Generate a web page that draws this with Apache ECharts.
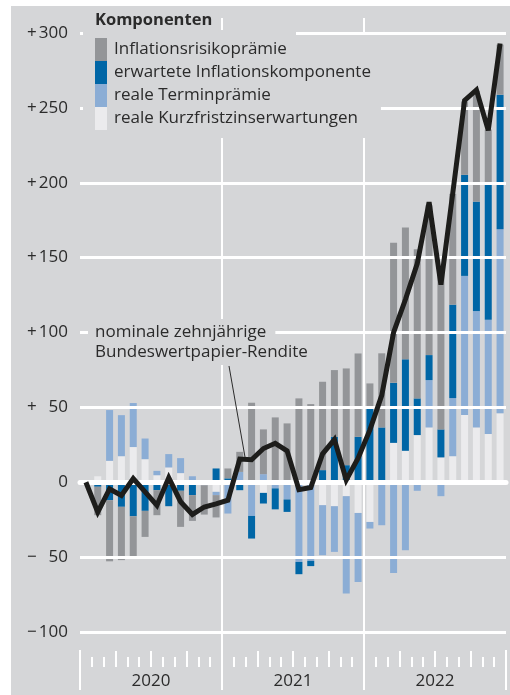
<!DOCTYPE html>
<html><head><meta charset="utf-8">
<script src="https://cdn.jsdelivr.net/npm/echarts@6/dist/echarts.min.js"></script>
<style>
html,body{margin:0;padding:0;background:#fff;}
#bg{position:absolute;left:11px;top:6px;width:499px;height:689px;background:#d5d6d8;}
#chart{position:absolute;left:0;top:0;width:510px;height:695px;}
</style>
</head><body><div id="bg"></div><div id="chart"></div>
<script>
const months = ['2020-01','2020-02','2020-03','2020-04','2020-05','2020-06','2020-07','2020-08','2020-09','2020-10','2020-11','2020-12',
  '2021-01','2021-02','2021-03','2021-04','2021-05','2021-06','2021-07','2021-08','2021-09','2021-10','2021-11','2021-12',
  '2022-01','2022-02','2022-03','2022-04','2022-05','2022-06','2022-07','2022-08','2022-09','2022-10','2022-11','2022-12'];
const quarters = ['Q1 20','Q2 20','Q3 20','Q4 20','Q1 21','Q2 21','Q3 21','Q4 21','Q1 22','Q2 22','Q3 22','Q4 22'];
const years = ['2020','2021','2022'];
const yTicks = [-100,-50,0,50,100,150,200,250,300];

// Components (basis points)
const kurzfrist = [0,4,14.3,17.4,23.5,15.4,4.7,9.9,6.1,0,0,-6.4,
  0,0,0,-7.1,0,0,0,0,-15.3,-16,-9.3,-20.5,
  -26.5,0,26.3,21,31.5,36.6,16.6,17.4,44.9,36.6,32.2,46];
const termin = [0,0,33.9,27.4,29.4,13.8,2.9,8.9,10,4,-2,-2.2,
  -20.9,6.9,-22.5,5.4,-4.1,-11.5,-53.2,-52.5,-33.4,-30.5,-65,-46.1,
  -4.4,-28.7,-60.6,-45.4,-5.7,31.6,-9.3,38.8,92.9,77.7,76.3,123];
const erwartet = [0,-3,-12,-16.4,-22.7,-19.1,-5.3,-16,-5.7,-8.6,0,9.2,
  2.6,-5.3,-15.1,-7.1,-14,-8.3,-8.2,-3.5,8.1,30.3,11.4,30.3,
  50,36.6,40.1,61.1,24.5,16.7,18.7,62.4,67.5,73.1,90.2,89.8];
const risiko = [0,-19,-40.8,-35.6,-27.9,-17.4,-16.7,0,-24.1,-17.2,-19.6,-14.9,
  6.6,13.4,53.1,29.9,43.3,39.3,56,52.2,59,44.6,64.6,55.7,
  16,49.5,93.6,88,99.6,100,106,74,49,74,36.8,33.4];
const rendite = [0,-20,-4.5,-8.8,2.5,-6.4,-15.5,3,-13,-21.5,-16.5,-14.5,
  -12,15.5,15,22.5,26,21,-5,-3.5,19,28.5,1.5,16,
  35,58,100,122,146,187,132,193,255,262,235,293];

const FONT = '"Open Sans", "Noto Sans", sans-serif';
const FS = 17;
const BG = '#d5d6d8';
const TXT = '#2b2b2b';
const C = {risiko:'#939598', erwartet:'#0066a6', termin:'#8badd5', kurz:'#ebebed', line:'#1d1d1b'};

const chart = echarts.init(document.getElementById('chart'), null, {renderer:'canvas'});

function barSeries(name, data, color){
  return {name, type:'bar', stack:'k', data, barWidth:7, xAxisIndex:0, yAxisIndex:0,
    itemStyle:{color}, emphasis:{disabled:true}, z:2};
}

const option = {
  animation:false,
  textStyle:{fontFamily:FONT},
  title:{text:'Komponenten', left:83, top:9, padding:[3,6,3,12], backgroundColor:BG,
    textStyle:{fontSize:16.5, fontWeight:'bold', color:TXT, fontFamily:FONT}, z:8},
  legend:{
    data:['Inflationsrisikoprämie','erwartete Inflationskomponente','reale Terminprämie','reale Kurzfristzinserwartungen'],
    orient:'vertical', left:83, top:35, padding:[3,10,8,12], itemWidth:12, itemHeight:23, itemGap:0,
    icon:'rect', backgroundColor:BG, selectedMode:false, z:8,
    textStyle:{fontSize:FS, lineHeight:23, color:TXT, fontFamily:FONT, padding:[0,0,0,2]}
  },
  grid:[
    {left:80, width:426, top:33, height:599},
    {left:80, width:426, top:18, height:632}
  ],
  xAxis:[
    {gridIndex:0, type:'category', data:months, boundaryGap:true, z:3,
      axisLine:{show:true, onZero:true, lineStyle:{color:'#fff', width:5}},
      axisTick:{show:false}, axisLabel:{show:false}, splitLine:{show:false}},
    {gridIndex:1, type:'category', data:years, boundaryGap:true, position:'bottom', z:1,
      axisLine:{show:false},
      axisTick:{show:true, length:40, interval:0, lineStyle:{color:'#fff', width:2}},
      axisLabel:{show:true, margin:23, fontSize:FS, color:TXT, fontFamily:FONT},
      splitLine:{show:true, interval:0, showMinLine:false, showMaxLine:false, lineStyle:{color:'#fff', width:2}}},
    {gridIndex:1, type:'category', data:months, boundaryGap:true, position:'bottom', offset:17, z:1,
      axisLine:{show:false},
      axisTick:{show:true, inside:true, length:10, interval:0, lineStyle:{color:'#fff', width:2}},
      axisLabel:{show:false}, splitLine:{show:false}},
    {gridIndex:1, type:'category', data:quarters, boundaryGap:true, position:'bottom', offset:17, z:1,
      axisLine:{show:false},
      axisTick:{show:true, inside:true, length:16, interval:0, lineStyle:{color:'#fff', width:2}},
      axisLabel:{show:false}, splitLine:{show:false}}
  ],
  yAxis:[
    {gridIndex:0, type:'value', min:yTicks[0], max:yTicks[yTicks.length-1], interval:50, z:3,
      axisLine:{show:false}, axisTick:{show:false},
      splitLine:{show:true, lineStyle:{color:'#fff', width:3}},
      axisLabel:{margin:12, align:'right',
        formatter:function(v){
          if(v===0) return '{n|0}';
          return '{s|' + (v>0?'+':'\u2212') + '}{n|' + Math.abs(v) + '}';
        },
        rich:{
          s:{width:12, align:'left', fontSize:FS, color:TXT, fontFamily:FONT},
          n:{width:29, align:'right', fontSize:FS, color:TXT, fontFamily:FONT}
        }}},
    {gridIndex:1, type:'value', show:false, min:0, max:1}
  ],
  series:[
    barSeries('reale Kurzfristzinserwartungen', kurzfrist, C.kurz),
    barSeries('reale Terminprämie', termin, C.termin),
    barSeries('erwartete Inflationskomponente', erwartet, C.erwartet),
    barSeries('Inflationsrisikoprämie', risiko, C.risiko),
    {name:'nominale zehnjährige Bundeswertpapier-Rendite', type:'line', data:rendite,
      xAxisIndex:0, yAxisIndex:0, symbol:'none', z:6, emphasis:{disabled:true},
      lineStyle:{color:C.line, width:5, join:'miter', miterLimit:4}}
  ],
  graphic:[
    {type:'rect', shape:{x:83, y:30, width:213, height:6}, style:{fill:BG}, z:7, silent:true},
    {type:'text', x:88, y:339, z:9, silent:true,
      style:{text:'Bundeswertpapier-Rendite', font:FS + 'px ' + FONT, fill:TXT,
        lineHeight:20, backgroundColor:BG, padding:[3,8,3,7]}},
    {type:'text', x:88, y:319, z:9, silent:true,
      style:{text:'nominale zehnjährige', font:FS + 'px ' + FONT, fill:TXT,
        lineHeight:20, backgroundColor:BG, padding:[3,9,3,7]}},
    {type:'line', shape:{x1:229, y1:366, x2:245, y2:457}, style:{stroke:TXT, lineWidth:1}, z:5, silent:true}
  ]
};
chart.setOption(option);
</script></body></html>
